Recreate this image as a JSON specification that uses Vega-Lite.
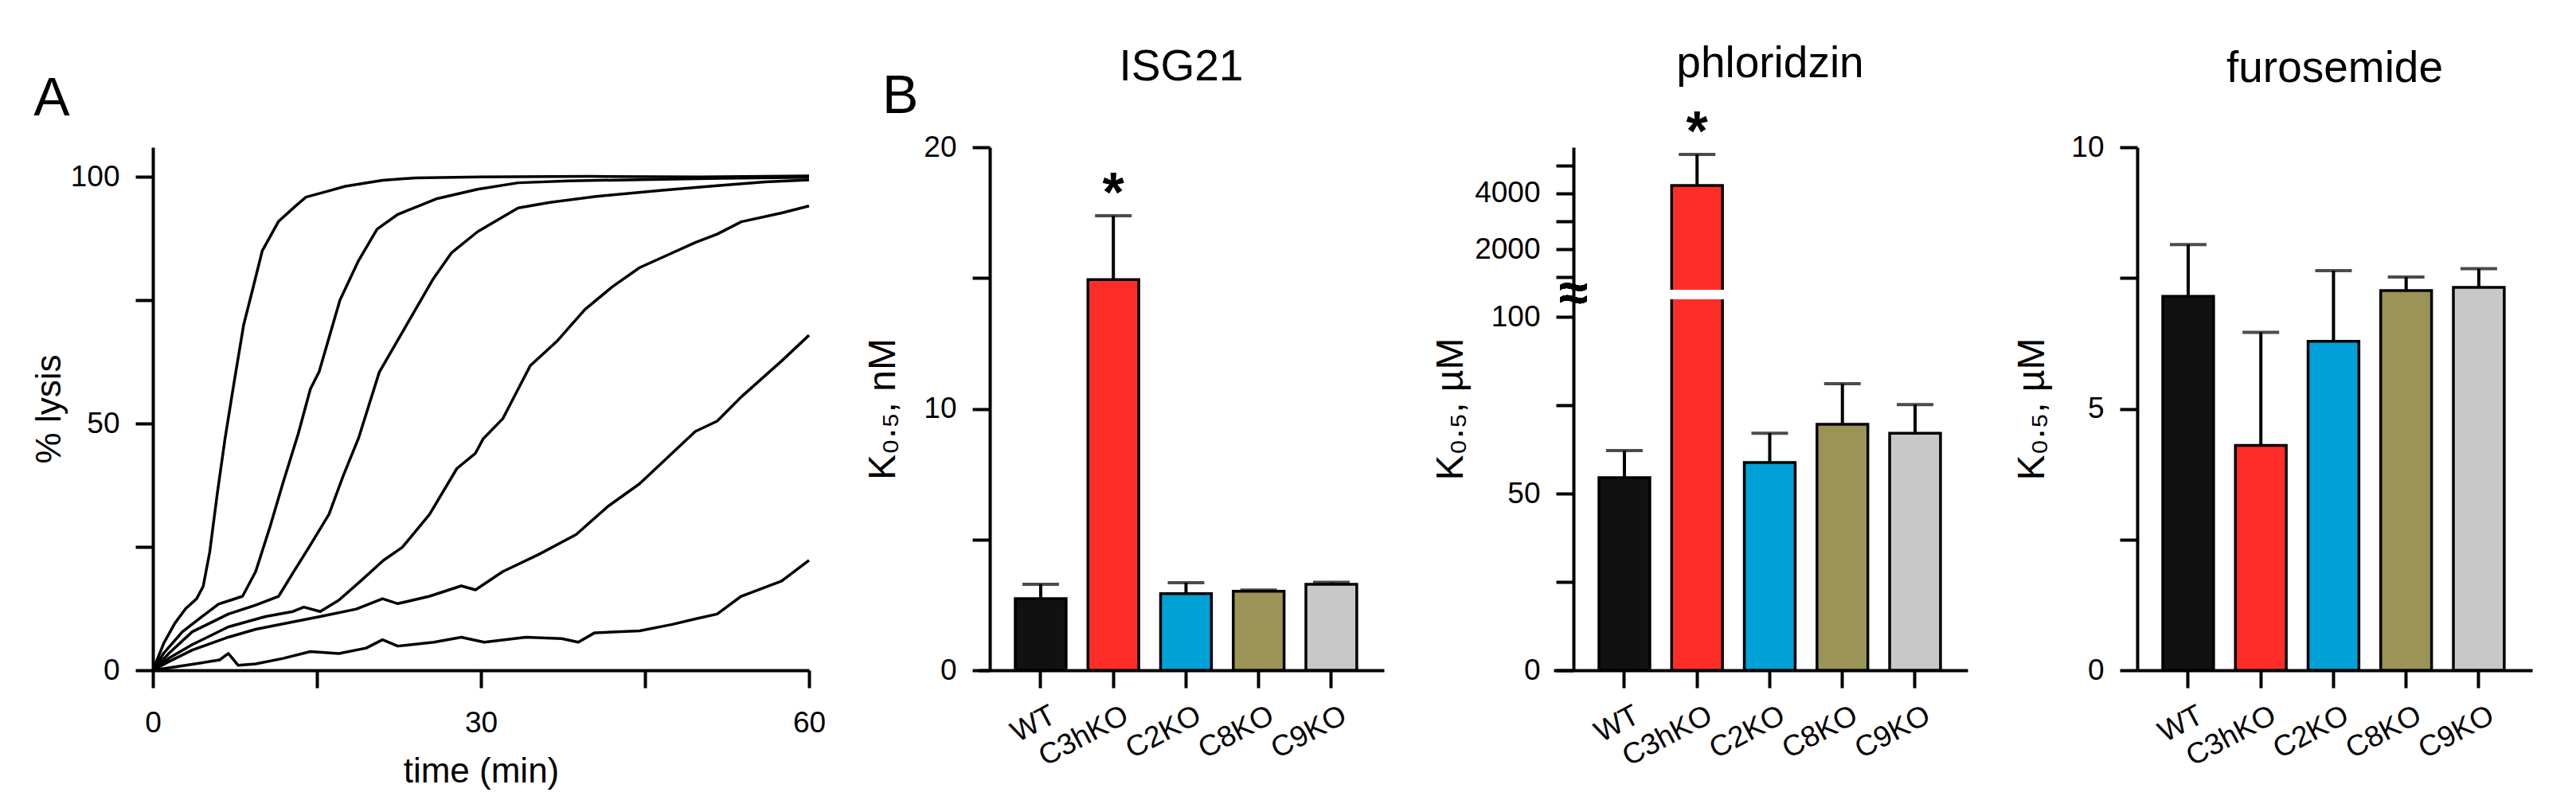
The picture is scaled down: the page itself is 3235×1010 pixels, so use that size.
{
  "$schema": "https://vega.github.io/schema/vega-lite/v6.json",
  "background": "white",
  "padding": {"left": 40, "top": 52, "right": 20, "bottom": 5},
  "title": {"text": "B", "anchor": "start", "frame": "group", "dx": 916, "offset": -157, "fontSize": 68, "baseline": "alphabetic", "font": "Liberation Sans", "fontWeight": "normal", "color": "#000"},
  "bounds": "flush",
  "spacing": 213,
  "datasets": {
    "lysis": [
      {"curve": 1, "t": 0, "v": 0}, {"curve": 1, "t": 1, "v": 5.5}, {"curve": 1, "t": 2, "v": 9.5}, {"curve": 1, "t": 3, "v": 12.5}, {"curve": 1, "t": 4, "v": 14.5}, {"curve": 1, "t": 4.6, "v": 17}, {"curve": 1, "t": 5.2, "v": 24}, {"curve": 1, "t": 5.9, "v": 36}, {"curve": 1, "t": 6.6, "v": 47}, {"curve": 1, "t": 7.4, "v": 58}, {"curve": 1, "t": 8.3, "v": 70}, {"curve": 1, "t": 9.1, "v": 77}, {"curve": 1, "t": 10, "v": 85}, {"curve": 1, "t": 11.5, "v": 91}, {"curve": 1, "t": 13, "v": 94}, {"curve": 1, "t": 14, "v": 95.9}, {"curve": 1, "t": 16, "v": 97.1}, {"curve": 1, "t": 17.6, "v": 98.1}, {"curve": 1, "t": 21, "v": 99.3}, {"curve": 1, "t": 24, "v": 99.8}, {"curve": 1, "t": 30, "v": 100}, {"curve": 1, "t": 40, "v": 100.1}, {"curve": 1, "t": 50, "v": 100}, {"curve": 1, "t": 60, "v": 100.2},
      {"curve": 2, "t": 0, "v": 0}, {"curve": 2, "t": 1, "v": 3.5}, {"curve": 2, "t": 2.7, "v": 7.8}, {"curve": 2, "t": 4.8, "v": 11.4}, {"curve": 2, "t": 6, "v": 13.4}, {"curve": 2, "t": 7.1, "v": 14.2}, {"curve": 2, "t": 8.2, "v": 15}, {"curve": 2, "t": 9.4, "v": 20}, {"curve": 2, "t": 10.7, "v": 29}, {"curve": 2, "t": 11.9, "v": 38}, {"curve": 2, "t": 13.3, "v": 48}, {"curve": 2, "t": 14.4, "v": 57}, {"curve": 2, "t": 15.2, "v": 60.5}, {"curve": 2, "t": 17.1, "v": 75}, {"curve": 2, "t": 18.8, "v": 83}, {"curve": 2, "t": 20.5, "v": 89.4}, {"curve": 2, "t": 22.4, "v": 92.4}, {"curve": 2, "t": 26, "v": 95.6}, {"curve": 2, "t": 29.7, "v": 97.5}, {"curve": 2, "t": 33.4, "v": 98.8}, {"curve": 2, "t": 38, "v": 99.2}, {"curve": 2, "t": 46.6, "v": 99.5}, {"curve": 2, "t": 52, "v": 99.7}, {"curve": 2, "t": 60, "v": 99.9},
      {"curve": 3, "t": 0, "v": 0}, {"curve": 3, "t": 1.5, "v": 3.5}, {"curve": 3, "t": 3.6, "v": 7.8}, {"curve": 3, "t": 6.9, "v": 11.4}, {"curve": 3, "t": 9.4, "v": 13.2}, {"curve": 3, "t": 11.5, "v": 15}, {"curve": 3, "t": 12.8, "v": 19.7}, {"curve": 3, "t": 14.4, "v": 25.4}, {"curve": 3, "t": 16.1, "v": 31.6}, {"curve": 3, "t": 17.4, "v": 39.4}, {"curve": 3, "t": 18.8, "v": 47}, {"curve": 3, "t": 20.7, "v": 60.4}, {"curve": 3, "t": 23.2, "v": 70}, {"curve": 3, "t": 25.6, "v": 79.2}, {"curve": 3, "t": 27.3, "v": 84.6}, {"curve": 3, "t": 29.7, "v": 88.9}, {"curve": 3, "t": 33.4, "v": 93.7}, {"curve": 3, "t": 36.2, "v": 94.8}, {"curve": 3, "t": 40.4, "v": 96}, {"curve": 3, "t": 46.6, "v": 97.3}, {"curve": 3, "t": 51.6, "v": 98.2}, {"curve": 3, "t": 56, "v": 99}, {"curve": 3, "t": 60, "v": 99.4},
      {"curve": 4, "t": 0, "v": 0}, {"curve": 4, "t": 1.5, "v": 2.5}, {"curve": 4, "t": 3.6, "v": 5.2}, {"curve": 4, "t": 6.9, "v": 8.8}, {"curve": 4, "t": 10.3, "v": 10.9}, {"curve": 4, "t": 12.8, "v": 11.9}, {"curve": 4, "t": 13.8, "v": 12.8}, {"curve": 4, "t": 15.3, "v": 11.9}, {"curve": 4, "t": 17, "v": 14.2}, {"curve": 4, "t": 19, "v": 18.1}, {"curve": 4, "t": 21.1, "v": 22.3}, {"curve": 4, "t": 22.8, "v": 24.9}, {"curve": 4, "t": 25.3, "v": 31.6}, {"curve": 4, "t": 27.8, "v": 40.9}, {"curve": 4, "t": 29.5, "v": 44}, {"curve": 4, "t": 30.2, "v": 46.9}, {"curve": 4, "t": 32, "v": 51}, {"curve": 4, "t": 33.4, "v": 57}, {"curve": 4, "t": 34.5, "v": 61.7}, {"curve": 4, "t": 37, "v": 66.8}, {"curve": 4, "t": 39.5, "v": 73.1}, {"curve": 4, "t": 42, "v": 77.7}, {"curve": 4, "t": 44.5, "v": 81.6}, {"curve": 4, "t": 47, "v": 84.1}, {"curve": 4, "t": 49.6, "v": 86.7}, {"curve": 4, "t": 51.6, "v": 88.4}, {"curve": 4, "t": 53.8, "v": 90.9}, {"curve": 4, "t": 57.5, "v": 92.7}, {"curve": 4, "t": 60, "v": 94.1},
      {"curve": 5, "t": 0, "v": 0}, {"curve": 5, "t": 1.5, "v": 1.8}, {"curve": 5, "t": 3.6, "v": 4.1}, {"curve": 5, "t": 6.9, "v": 6.7}, {"curve": 5, "t": 9.4, "v": 8.3}, {"curve": 5, "t": 12.8, "v": 9.8}, {"curve": 5, "t": 15.3, "v": 10.9}, {"curve": 5, "t": 18.6, "v": 12.4}, {"curve": 5, "t": 21, "v": 14.5}, {"curve": 5, "t": 22.4, "v": 13.5}, {"curve": 5, "t": 25.3, "v": 15}, {"curve": 5, "t": 28.2, "v": 17.1}, {"curve": 5, "t": 29.5, "v": 16.3}, {"curve": 5, "t": 32, "v": 20}, {"curve": 5, "t": 35.3, "v": 23.5}, {"curve": 5, "t": 38.7, "v": 27.5}, {"curve": 5, "t": 41.6, "v": 33.2}, {"curve": 5, "t": 44.5, "v": 37.8}, {"curve": 5, "t": 47.1, "v": 43.2}, {"curve": 5, "t": 49.6, "v": 48.4}, {"curve": 5, "t": 51.6, "v": 50.5}, {"curve": 5, "t": 53.8, "v": 55.4}, {"curve": 5, "t": 57.5, "v": 62.7}, {"curve": 5, "t": 60, "v": 67.9},
      {"curve": 6, "t": 0, "v": 0}, {"curve": 6, "t": 3.6, "v": 1.2}, {"curve": 6, "t": 6.1, "v": 2.1}, {"curve": 6, "t": 6.9, "v": 3.4}, {"curve": 6, "t": 7.8, "v": 1}, {"curve": 6, "t": 9.4, "v": 1.3}, {"curve": 6, "t": 11.9, "v": 2.4}, {"curve": 6, "t": 14.4, "v": 3.8}, {"curve": 6, "t": 17, "v": 3.4}, {"curve": 6, "t": 19.5, "v": 4.5}, {"curve": 6, "t": 21, "v": 6.2}, {"curve": 6, "t": 22.4, "v": 4.9}, {"curve": 6, "t": 25.7, "v": 5.7}, {"curve": 6, "t": 28.2, "v": 6.7}, {"curve": 6, "t": 30.3, "v": 5.7}, {"curve": 6, "t": 34.1, "v": 6.7}, {"curve": 6, "t": 37.4, "v": 6.4}, {"curve": 6, "t": 38.9, "v": 5.7}, {"curve": 6, "t": 40.4, "v": 7.6}, {"curve": 6, "t": 44.5, "v": 8}, {"curve": 6, "t": 47.5, "v": 9.3}, {"curve": 6, "t": 49.6, "v": 10.4}, {"curve": 6, "t": 51.6, "v": 11.4}, {"curve": 6, "t": 53.8, "v": 15}, {"curve": 6, "t": 57.5, "v": 18.1}, {"curve": 6, "t": 60, "v": 22.3}
    ],
    "isg": [
      {"g": "WT", "mean": 2.74, "hi": 3.29, "sig": ""},
      {"g": "C3hKO", "mean": 14.94, "hi": 17.38, "sig": "*"},
      {"g": "C2KO", "mean": 2.93, "hi": 3.35, "sig": ""},
      {"g": "C8KO", "mean": 3.02, "hi": 3.07, "sig": ""},
      {"g": "C9KO", "mean": 3.29, "hi": 3.36, "sig": ""}
    ],
    "phl": [
      {"g": "WT", "mean": 54.5, "hi": 62.2, "sig": ""},
      {"g": "C3hKO", "mean": 4286, "hi": 5400, "sig": "*"},
      {"g": "C2KO", "mean": 58.8, "hi": 67.1, "sig": ""},
      {"g": "C8KO", "mean": 69.6, "hi": 81.1, "sig": ""},
      {"g": "C9KO", "mean": 67.1, "hi": 75.2, "sig": ""}
    ],
    "fur": [
      {"g": "WT", "mean": 7.15, "hi": 8.14, "sig": ""},
      {"g": "C3hKO", "mean": 4.3, "hi": 6.46, "sig": ""},
      {"g": "C2KO", "mean": 6.29, "hi": 7.64, "sig": ""},
      {"g": "C8KO", "mean": 7.26, "hi": 7.52, "sig": ""},
      {"g": "C9KO", "mean": 7.32, "hi": 7.68, "sig": ""}
    ]
  },
  "hconcat": [
    {
      "width": 824, "height": 657,
      "title": {"text": "A", "anchor": "start", "frame": "bounds", "fontSize": 68, "baseline": "alphabetic", "offset": -28, "dx": 2},
      "data": {"name": "lysis"},
      "mark": {"type": "line", "color": "#000", "strokeWidth": 3.5, "strokeJoin": "round"},
      "encoding": {
        "x": {"field": "t", "type": "quantitative", "scale": {"domain": [0, 60], "nice": false},
          "axis": {"values": [0, 15, 30, 45, 60], "labelExpr": "datum.value % 30 === 0 ? datum.label : ''", "title": "time (min)", "titleFontSize": 44, "labelPadding": 26, "titlePadding": 21, "labelFlush": false}},
        "y": {"field": "v", "type": "quantitative", "scale": {"domain": [0, 106], "nice": false},
          "axis": {"values": [0, 25, 50, 75, 100], "labelExpr": "datum.value % 50 === 0 ? datum.label : ''", "title": "% lysis", "titleFontSize": 44, "titlePadding": 4, "labelFlush": false}},
        "detail": {"field": "curve", "type": "nominal"}
      }
    },
    {
      "width": 509, "height": 657,
      "title": {"text": "ISG21", "fontSize": 55, "baseline": "alphabetic", "offset": 10},
      "data": {"name": "isg"},
      "encoding": {
        "x": {"field": "g", "type": "nominal",
          "scale": {"domain": ["WT", "C3hKO", "C2KO", "C8KO", "C9KO"], "paddingInner": 0.3, "paddingOuter": 0.439, "align": 0.574},
          "axis": {"title": null, "labelAngle": -28, "labelPadding": 16, "labelOffset": 8, "labelFontSize": 37}}
      },
      "layer": [
        {"mark": {"type": "bar", "stroke": "#000", "strokeWidth": 3.5},
          "encoding": {
            "y": {"field": "mean", "type": "quantitative", "scale": {"domain": [0, 20], "nice": false},
              "axis": {"values": [0, 5, 10, 15, 20], "labelExpr": "datum.value % 10 === 0 ? '' + datum.value : ''", "title": "K₀.₅,  nM", "titleFontSize": 48, "titlePadding": 26, "offset": -14, "labelFlush": false}},
            "color": {"field": "g", "type": "nominal", "scale": {"domain": ["WT", "C3hKO", "C2KO", "C8KO", "C9KO"], "range": ["#111111", "#ff2d28", "#00a1d7", "#9b9456", "#c8c8c8"]}, "legend": null}
          }},
        {"mark": {"type": "rule", "strokeWidth": 4, "color": "#000"},
          "encoding": {"y": {"field": "mean", "type": "quantitative", "title": "K₀.₅,  nM"}, "y2": {"field": "hi"}}},
        {"mark": {"type": "tick", "size": 46, "thickness": 4, "color": "#000"},
          "encoding": {"y": {"field": "hi", "type": "quantitative", "title": "K₀.₅,  nM"}}},
        {"transform": [{"filter": "datum.sig != ''"}],
          "mark": {"type": "text", "fontSize": 70, "fontWeight": "bold", "baseline": "alphabetic", "dy": -5, "color": "#000"},
          "encoding": {"y": {"field": "hi", "type": "quantitative", "title": "K₀.₅,  nM"}, "text": {"field": "sig"}}}
      ]
    },
    {
      "width": 520, "height": 657,
      "title": {"text": "phloridzin", "fontSize": 55, "baseline": "alphabetic", "offset": -19, "dx": 12},
      "data": {"name": "phl"},
      "encoding": {
        "x": {"field": "g", "type": "nominal",
          "scale": {"domain": ["WT", "C3hKO", "C2KO", "C8KO", "C9KO"], "paddingInner": 0.3, "paddingOuter": 0.499, "align": 0.626},
          "axis": {"title": null, "labelAngle": -28, "labelPadding": 16, "labelOffset": 8, "labelFontSize": 37}}
      },
      "layer": [
        {"mark": {"type": "bar", "stroke": "#000", "strokeWidth": 3.5},
          "encoding": {
            "y": {"field": "mean", "type": "quantitative", "scale": {"domain": [0, 105, 543, 5657], "range": [657, 191, 179, 0], "nice": false, "zero": false},
              "axis": {"values": [0, 25, 50, 75, 100, 1000, 2000, 3000, 4000, 5000], "labelExpr": "(datum.value === 0 || datum.value === 50 || datum.value === 100 || datum.value === 2000 || datum.value === 4000) ? datum.value + '' : ''", "title": "K₀.₅,  µM", "titleFontSize": 48, "titlePadding": 5, "offset": -25, "labelFlush": false, "labelOverlap": false}},
            "color": {"field": "g", "type": "nominal", "scale": {"domain": ["WT", "C3hKO", "C2KO", "C8KO", "C9KO"], "range": ["#111111", "#ff2d28", "#00a1d7", "#9b9456", "#c8c8c8"]}, "legend": null}
          }},
        {"transform": [{"filter": "datum.g === 'C3hKO'"}],
          "mark": {"type": "bar", "color": "white", "width": {"band": 1.12}},
          "encoding": {"y": {"datum": 105, "type": "quantitative", "title": "K₀.₅,  µM"}, "y2": {"datum": 543}}},
        {"mark": {"type": "text", "text": "≈", "fontSize": 66, "fontWeight": "bold", "baseline": "middle", "align": "center", "dx": -64, "color": "#000"},
          "encoding": {"x": {"datum": "WT"}, "y": {"datum": 324, "type": "quantitative", "title": "K₀.₅,  µM"}}},
        {"mark": {"type": "rule", "strokeWidth": 4, "color": "#000"},
          "encoding": {"y": {"field": "mean", "type": "quantitative", "title": "K₀.₅,  µM"}, "y2": {"field": "hi"}}},
        {"mark": {"type": "tick", "size": 46, "thickness": 4, "color": "#000"},
          "encoding": {"y": {"field": "hi", "type": "quantitative", "title": "K₀.₅,  µM"}}},
        {"transform": [{"filter": "datum.sig != ''"}],
          "mark": {"type": "text", "fontSize": 70, "fontWeight": "bold", "baseline": "alphabetic", "dy": -5, "color": "#000"},
          "encoding": {"y": {"field": "hi", "type": "quantitative", "title": "K₀.₅,  µM"}, "text": {"field": "sig"}}}
      ]
    },
    {
      "width": 496, "height": 657,
      "title": {"text": "furosemide", "fontSize": 55, "baseline": "alphabetic", "offset": 8},
      "data": {"name": "fur"},
      "encoding": {
        "x": {"field": "g", "type": "nominal",
          "scale": {"domain": ["WT", "C3hKO", "C2KO", "C8KO", "C9KO"], "paddingInner": 0.3, "paddingOuter": 0.368, "align": 0.477},
          "axis": {"title": null, "labelAngle": -28, "labelPadding": 16, "labelOffset": 8, "labelFontSize": 37}}
      },
      "layer": [
        {"mark": {"type": "bar", "stroke": "#000", "strokeWidth": 3.5},
          "encoding": {
            "y": {"field": "mean", "type": "quantitative", "scale": {"domain": [0, 10], "nice": false},
              "axis": {"values": [0, 2.5, 5, 7.5, 10], "labelExpr": "datum.value % 5 === 0 ? '' + datum.value : ''", "title": "K₀.₅,  µM", "titleFontSize": 48, "titlePadding": 24, "labelFlush": false}},
            "color": {"field": "g", "type": "nominal", "scale": {"domain": ["WT", "C3hKO", "C2KO", "C8KO", "C9KO"], "range": ["#111111", "#ff2d28", "#00a1d7", "#9b9456", "#c8c8c8"]}, "legend": null}
          }},
        {"mark": {"type": "rule", "strokeWidth": 4, "color": "#000"},
          "encoding": {"y": {"field": "mean", "type": "quantitative", "title": "K₀.₅,  µM"}, "y2": {"field": "hi"}}},
        {"mark": {"type": "tick", "size": 46, "thickness": 4, "color": "#000"},
          "encoding": {"y": {"field": "hi", "type": "quantitative", "title": "K₀.₅,  µM"}}}
      ]
    }
  ],
  "config": {
    "font": "Liberation Sans",
    "view": {"stroke": null},
    "axis": {"domainColor": "#000", "domainWidth": 4, "tickColor": "#000", "tickWidth": 4, "tickSize": 22, "labelColor": "#000", "labelFont": "Liberation Sans", "labelFontSize": 37, "titleFont": "Liberation Sans", "titleFontWeight": "normal", "titleColor": "#000", "grid": false, "labelPadding": 20},
    "title": {"font": "Liberation Sans", "fontWeight": "normal", "color": "#000"}
  }
}
